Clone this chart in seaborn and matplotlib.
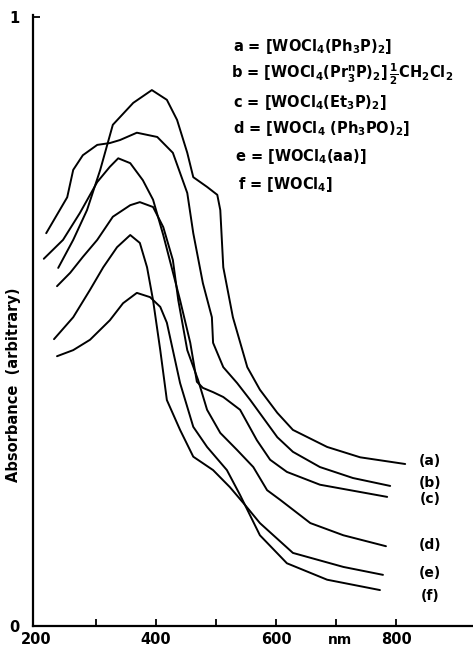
import numpy as np
import pandas as pd
import seaborn as sns
import matplotlib.pyplot as plt

# wavelength (nm) / absorbance (arbitrary)
a_nm = [237, 262, 285, 307, 328, 362, 393, 418, 435, 452, 462, 485, 502, 507, 512, 528, 552, 573, 602, 628, 685, 740, 815]
a_abs = [0.588, 0.634, 0.683, 0.749, 0.823, 0.859, 0.880, 0.864, 0.831, 0.777, 0.737, 0.721, 0.708, 0.683, 0.589, 0.507, 0.425, 0.388, 0.350, 0.322, 0.294, 0.277, 0.266]

b_nm = [217, 252, 262, 278, 302, 323, 340, 368, 402, 428, 440, 452, 462, 478, 493, 495, 512, 535, 557, 602, 628, 673, 728, 790]
b_abs = [0.645, 0.704, 0.749, 0.773, 0.790, 0.793, 0.798, 0.810, 0.803, 0.777, 0.744, 0.711, 0.645, 0.563, 0.507, 0.465, 0.425, 0.399, 0.371, 0.310, 0.286, 0.261, 0.243, 0.230]

c_nm = [213, 245, 273, 302, 323, 337, 357, 378, 395, 412, 427, 440, 457, 468, 478, 495, 512, 540, 568, 590, 618, 673, 785]
c_abs = [0.603, 0.634, 0.678, 0.729, 0.754, 0.768, 0.760, 0.732, 0.700, 0.642, 0.585, 0.535, 0.465, 0.401, 0.391, 0.384, 0.376, 0.355, 0.305, 0.273, 0.253, 0.232, 0.212]

d_nm = [235, 257, 278, 302, 328, 357, 373, 395, 412, 428, 437, 452, 470, 485, 507, 535, 562, 585, 607, 657, 712, 783]
d_abs = [0.558, 0.580, 0.606, 0.634, 0.672, 0.691, 0.696, 0.688, 0.655, 0.601, 0.535, 0.453, 0.404, 0.355, 0.317, 0.289, 0.261, 0.223, 0.207, 0.169, 0.149, 0.131]

e_nm = [230, 262, 290, 312, 335, 357, 373, 385, 395, 407, 418, 440, 462, 495, 523, 548, 573, 628, 712, 778]
e_abs = [0.471, 0.507, 0.552, 0.589, 0.622, 0.642, 0.629, 0.589, 0.535, 0.453, 0.371, 0.322, 0.278, 0.256, 0.228, 0.199, 0.169, 0.120, 0.097, 0.084]

f_nm = [235, 262, 290, 323, 345, 368, 390, 407, 418, 428, 440, 462, 485, 518, 540, 573, 618, 685, 773]
f_abs = [0.443, 0.453, 0.470, 0.502, 0.530, 0.547, 0.540, 0.524, 0.498, 0.453, 0.399, 0.327, 0.294, 0.256, 0.215, 0.149, 0.103, 0.076, 0.059]

legend_lines = [
    r"a = $\left[\mathrm{WOCl_4(Ph_3P)_2}\right]$",
    r"b = $[\mathrm{WOCl_4(Pr^{n}_{3}P)_2}]\,\frac{1}{2}\mathrm{CH_2Cl_2}$",
    r"c = $\left[\mathrm{WOCl_4(Et_3P)_2}\right]$",
    r"d = $\left[\mathrm{WOCl_4\ (Ph_3PO)_2}\right]$",
    r"e = $\left[\mathrm{WOCl_4(aa)}\right]$",
    r"f = $\left[\mathrm{WOCl_4}\right]$",
]
end_labels = ["(a)", "(b)", "(c)", "(d)", "(e)", "(f)"]

series = {"a": (a_nm, a_abs), "b": (b_nm, b_abs), "c": (c_nm, c_abs),
          "d": (d_nm, d_abs), "e": (e_nm, e_abs), "f": (f_nm, f_abs)}
df = pd.concat([pd.DataFrame({"nm": x, "abs": y, "sample": k}) for k, (x, y) in series.items()],
               ignore_index=True)

sns.set_style("ticks")
plt.rcParams['font.family'] = ['DejaVu Sans']
plt.rcParams['mathtext.default'] = 'bf'
plt.rcParams['font.weight'] = 'bold'
plt.rcParams['text.color'] = 'black'
plt.rcParams['xtick.color'] = 'black'
plt.rcParams['ytick.color'] = 'black'

W, H = 473, 649
fig = plt.figure(figsize=(W / 100, H / 100), dpi=100)
ax = fig.add_axes([33 / W, 23 / H, 1 - 33 / W, 611 / H])

sns.lineplot(data=df, x="nm", y="abs", hue="sample", units="sample", estimator=None,
             sort=False, palette=["black"] * 6, linewidth=1.4, legend=False, ax=ax)
for ln in ax.get_lines():
    ln.set_solid_joinstyle("round")

ax.set_xlim(195, 928)
ax.set_ylim(0, 611 / 609)
sns.despine(ax=ax)
for s in ["left", "bottom"]:
    ax.spines[s].set_linewidth(1.6)
    ax.spines[s].set_color("black")

ax.set_xticks([200, 400, 600, 800])
ax.set_xticklabels(["200", "400", "600", "800"], fontweight="bold", fontsize=10.5)
ax.set_xticks([300, 500, 700], minor=True)
ax.tick_params(axis="x", which="both", direction="in", length=5, width=1.3, pad=4)
ax.xaxis.get_major_ticks()[0].tick1line.set_visible(False)

ax.set_yticks([0, 1])
ax.set_yticklabels(["0", "1"], fontweight="bold", fontsize=10.5)
ax.tick_params(axis="y", direction="in", length=5, width=1.3, pad=10)
ax.yaxis.get_major_ticks()[0].tick1line.set_visible(False)

ax.set_xlabel("")
ax.set_ylabel("")
fig.text(340 / W, 1 - 640 / H, "nm", ha="center", va="center", fontsize=10, fontweight="bold")
fig.text(14 / W, 1 - 385 / H, "Absorbance  (arbitrary)", rotation=90, ha="center", va="center",
         fontsize=10.5, fontweight="bold")

leg_x = [233, 231, 233, 233, 235, 238]
leg_y = [47, 74, 102, 129, 157, 184]
for t, x, y in zip(legend_lines, leg_x, leg_y):
    fig.text(x / W, 1 - y / H, t, ha="left", va="center", fontsize=10.5, fontweight="bold")

lab_y = [461, 483, 499, 545, 573, 596]
for t, y in zip(end_labels, lab_y):
    fig.text(430 / W, 1 - y / H, t, ha="center", va="center", fontsize=10, fontweight="bold")

fig.savefig("out.png", dpi=100)
